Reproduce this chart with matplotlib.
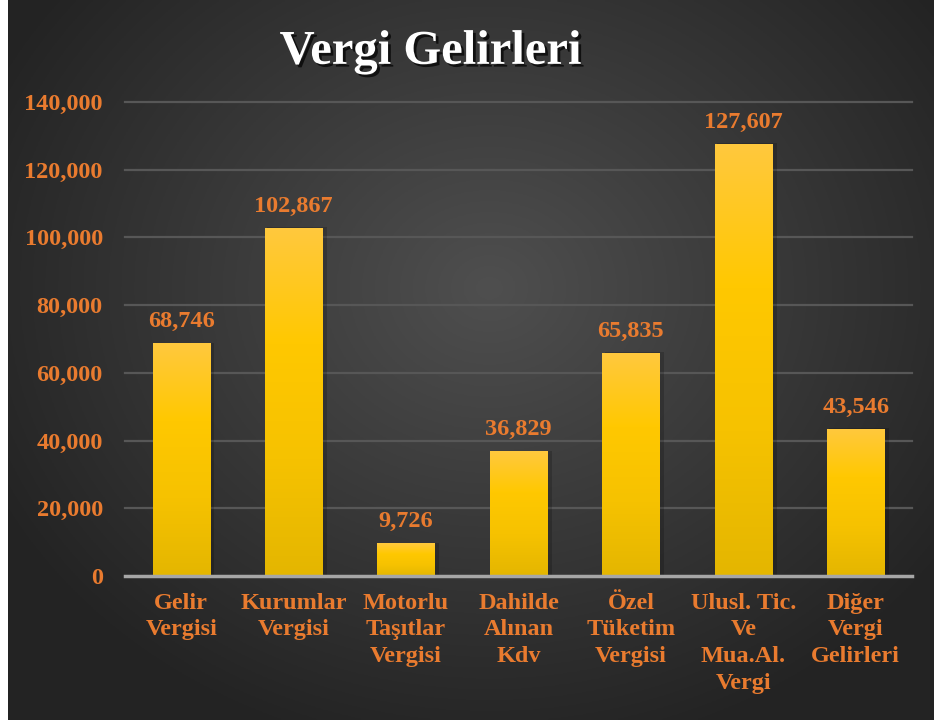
import matplotlib.pyplot as plt
import matplotlib.patheffects as pe
from matplotlib.colors import LinearSegmentedColormap
import numpy as np

# data
categories = ['Gelir\nVergisi', 'Kurumlar\nVergisi', 'Motorlu\nTaşıtlar\nVergisi',
              'Dahilde\nAlınan\nKdv', 'Özel\nTüketim\nVergisi',
              'Ulusl. Tic.\nVe\nMua.Al.\nVergi', 'Diğer\nVergi\nGelirleri']
values = [68746, 102867, 9726, 36829, 65835, 127607, 43546]
yticks = [0, 20000, 40000, 60000, 80000, 100000, 120000, 140000]

orange = '#E97B2F'
font = ['Liberation Serif', 'DejaVu Serif']
plt.rcParams['font.family'] = font

fig = plt.figure(figsize=(9.34, 7.2), dpi=100)

# dark radial background (white strip on the left like the reference)
bg = fig.add_axes([8 / 934, 0, 1 - 8 / 934, 1])
bg.set_axis_off()
yy, xx = np.mgrid[0:1:300j, 0:1:400j]
r = np.sqrt(((xx - 0.52) * 1.1) ** 2 + ((yy - 0.40) * 1.0) ** 2)
shade = np.clip(0.31 - 0.26 * r, 0.14, 0.31)
bg.imshow(np.dstack([shade] * 3), extent=(0, 1, 0, 1), aspect='auto',
          origin='upper')

ax = fig.add_axes([125 / 934, 1 - 576 / 720, (912 - 125) / 934, (576 - 102) / 720])
ax.set_facecolor('none')
ax.set_xlim(-0.5, len(values) - 0.5)
ax.set_ylim(0, 140000)
for s in ax.spines.values():
    s.set_visible(False)

for t in yticks[1:]:
    ax.axhline(t, color='#575757', lw=1.6, zorder=1, clip_on=False)
ax.axhline(0, color='#a6a6a6', lw=2.5, zorder=4, clip_on=False)

bar_cmap = LinearSegmentedColormap.from_list(
    'bar', ['#E4B600', '#F6C200', '#FFC800', '#FFC93E'])
grad = np.linspace(0, 1, 256).reshape(-1, 1)
x = np.arange(len(values))
bars = ax.bar(x, values, width=0.51, color='none', zorder=3)
for b, v in zip(bars, values):
    x0 = b.get_x()
    w = b.get_width()
    # soft shadow
    ax.add_patch(plt.Rectangle((x0 + 0.02, 0), w + 0.02, v * 1.003,
                               color='black', alpha=0.18, zorder=2, lw=0))
    im = ax.imshow(grad, extent=(x0, x0 + w, 0, v), origin='lower',
                   cmap=bar_cmap, aspect='auto', zorder=3)
    im.set_clip_path(b)
    ax.annotate(f'{v:,}', (x0 + w / 2, v), xytext=(0, 8),
                textcoords='offset points', ha='center', va='bottom',
                color=orange, fontsize=17.5, fontweight='bold')

ax.set_xticks(x)
ax.set_xticklabels(categories, color=orange, fontsize=17.5, fontweight='bold',
                   linespacing=1.36, va='top')
ax.set_yticks(yticks)
ax.set_yticklabels([f'{t:,}' for t in yticks], color=orange, fontsize=17.5,
                   fontweight='bold')
ax.tick_params(axis='both', length=0)
ax.tick_params(axis='x', pad=12)
ax.tick_params(axis='y', pad=16)

fig.text(0.461, 0.928, 'Vergi Gelirleri', ha='center', va='center',
         color='white', fontsize=35, fontweight='bold',
         path_effects=[pe.SimplePatchShadow(offset=(2, -2), shadow_rgbFace='black',
                                            alpha=0.7), pe.Normal()])

fig.savefig('out.png', dpi=100, facecolor='white')
